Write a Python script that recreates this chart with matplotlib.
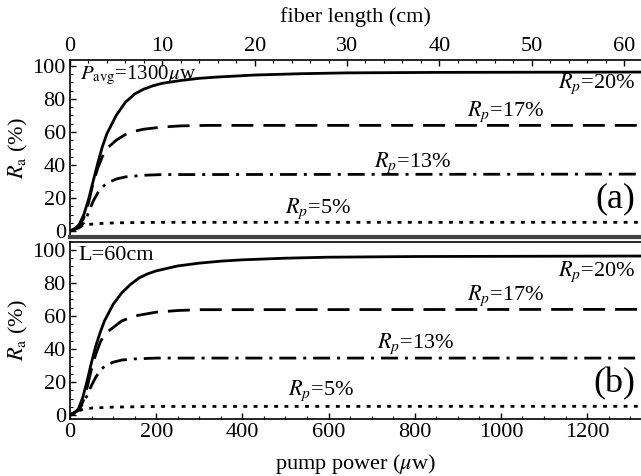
import numpy as np
import matplotlib
matplotlib.use("Agg")
from matplotlib import pyplot as plt
from matplotlib.ticker import MultipleLocator

plt.rcParams['font.family'] = ['Liberation Serif', 'DejaVu Serif']
plt.rcParams['mathtext.fontset'] = 'stix'

# top panel: Ra vs fiber length (cm), Pavg = 1300 uw
L_cm = [0, 0.5, 1, 1.5, 2, 2.5, 3, 3.5, 4, 5, 6, 7, 8, 9, 10, 12, 14, 16, 20, 25, 30, 40, 62]
ra20_L = [0, 1, 4, 10, 19, 30, 41, 51, 59, 70, 78, 83, 86, 88, 89.5, 91.2, 92.5, 93.3, 94.5, 95.3, 95.8, 96.1, 96.3]
L_cm17 = [0, 1, 1.5, 2, 2.5, 3, 3.5, 4, 5, 6, 7, 8, 10, 12, 15, 62]
ra17_L = [0, 3, 8, 17, 29, 38, 45, 50, 55, 58.5, 60.5, 61.7, 63, 63.7, 64, 64]
L_cm13 = [0, 1, 1.5, 2, 2.5, 3, 3.5, 4, 5, 6, 8, 10, 62]
ra13_L = [0, 2, 5, 11, 18, 23, 26.5, 29, 31.5, 32.8, 33.8, 34.2, 34.5]
L_cm5 = [0, 0.5, 1, 1.5, 2, 3, 5, 10, 62]
ra5_L = [0, 1, 2.5, 3.5, 4, 4.5, 5, 5.3, 5.3]

# bottom panel: Ra vs pump power (uw), L = 60 cm
P20 = [0, 10, 20, 30, 40, 50, 60, 70, 80, 100, 120, 140, 160, 180, 200, 250, 300, 350, 400, 500, 600, 800, 1325]
ra20_P = [0, 1, 4, 11, 21, 32, 42, 50, 57, 67, 74, 79, 83, 85.5, 87.3, 90.3, 92, 93.2, 94, 95, 95.6, 96, 96.3]
P17 = [0, 20, 30, 40, 50, 60, 70, 80, 100, 120, 150, 200, 250, 300, 1325]
ra17_P = [0, 3, 8, 17, 28, 37, 44, 49, 53, 57, 60, 62.3, 63.3, 63.8, 64]
P13 = [0, 20, 30, 40, 50, 60, 70, 80, 100, 120, 150, 200, 1325]
ra13_P = [0, 3, 7, 12, 18, 23, 27, 29.5, 32, 33.3, 34, 34.5, 34.5]
P5 = [0, 10, 20, 30, 50, 100, 200, 1325]
ra5_P = [0, 1, 2.5, 3.5, 4.2, 4.8, 5.2, 5.3]

lw = 2.0
ls_dash = (0, (7.9, 3.6))
ls_dashdot = (0, (6.1, 2.5, 1.1, 2.5))
ls_dot = (0, (1.4, 2.3))
fs = 16

fig = plt.figure(figsize=(6.41, 4.76), dpi=100)
ax1 = fig.add_axes([70/641, 1-237/476, 1-70/641, 177/476])
ax2 = fig.add_axes([70/641, 1-419/476, 1-70/641, 177/476])

def style(ax):
    ax.tick_params(which='both', direction='in', labelsize=fs, pad=3)
    ax.tick_params(which='major', length=4, width=1)
    ax.tick_params(which='minor', length=2, width=0.8)
    ax.yaxis.set_major_locator(MultipleLocator(20))
    ax.yaxis.set_minor_locator(MultipleLocator(5))
    ax.set_ylabel(r'$R_{\rm a}$ (%)', fontsize=fs, labelpad=2)
    ax.spines['right'].set_visible(False)
    for s in ['left', 'top', 'bottom']:
        ax.spines[s].set_linewidth(1.2)

# top panel
ax1.plot(L_cm, ra20_L, color='black', lw=lw)
ax1.plot(L_cm17, ra17_L, color='black', lw=lw, linestyle=ls_dash, dash_capstyle='butt')
ax1.plot(L_cm13, ra13_L, color='black', lw=lw, linestyle=ls_dashdot, dash_capstyle='butt')
ax1.plot(L_cm5, ra5_L, color='black', lw=lw, linestyle=ls_dot, dash_capstyle='butt')
ax1.set_xlim(0, 61.84)
ax1.set_ylim(-3.6, 103.6)
style(ax1)
ax1.xaxis.tick_top()
ax1.xaxis.set_label_position('top')
ax1.xaxis.set_major_locator(MultipleLocator(10))
ax1.xaxis.set_minor_locator(MultipleLocator(2))
ax1.set_xlabel('fiber length (cm)', fontsize=fs, labelpad=11)
ax1.spines['bottom'].set_linewidth(3)
ax1.spines['bottom'].set_color('#444444')
ax1.text(1.1, 94.5, r'$P_{\rm avg}$=1300$\mu$w', fontsize=15, va='center', ha='left')
ax1.text(61.2, 89, r'$R_p$=20%', fontsize=fs, ha='right', va='center')
ax1.text(47.2, 72, r'$R_p$=17%', fontsize=fs, ha='center', va='center')
ax1.text(37.1, 41.5, r'$R_p$=13%', fontsize=fs, ha='center', va='center')
ax1.text(26.9, 13.5, r'$R_p$=5%', fontsize=fs, ha='center', va='center')
ax1.text(61.2, 19.4, '(a)', fontsize=26, ha='right', va='center')

# bottom panel
ax2.plot(P20, ra20_P, color='black', lw=lw)
ax2.plot(P17, ra17_P, color='black', lw=lw, linestyle=ls_dash, dash_capstyle='butt')
ax2.plot(P13, ra13_P, color='black', lw=lw, linestyle=ls_dashdot, dash_capstyle='butt')
ax2.plot(P5, ra5_P, color='black', lw=lw, linestyle=ls_dot, dash_capstyle='butt')
ax2.set_xlim(0, 1325)
ax2.set_ylim(-2.4, 104.8)
style(ax2)
ax2.xaxis.set_major_locator(MultipleLocator(200))
ax2.xaxis.set_minor_locator(MultipleLocator(50))
ax2.set_xlabel(r'pump power ($\mu$w)', fontsize=fs, labelpad=7)
ax2.text(19, 96.4, 'L=60cm', fontsize=fs, va='center', ha='left')
ax2.text(1312, 87, r'$R_p$=20%', fontsize=fs, ha='right', va='center')
ax2.text(1012, 72, r'$R_p$=17%', fontsize=fs, ha='center', va='center')
ax2.text(803, 43, r'$R_p$=13%', fontsize=fs, ha='center', va='center')
ax2.text(582, 15, r'$R_p$=5%', fontsize=fs, ha='center', va='center')
ax2.text(1312, 18.8, '(b)', fontsize=26, ha='right', va='center')

fig.savefig('out.png', dpi=100)
